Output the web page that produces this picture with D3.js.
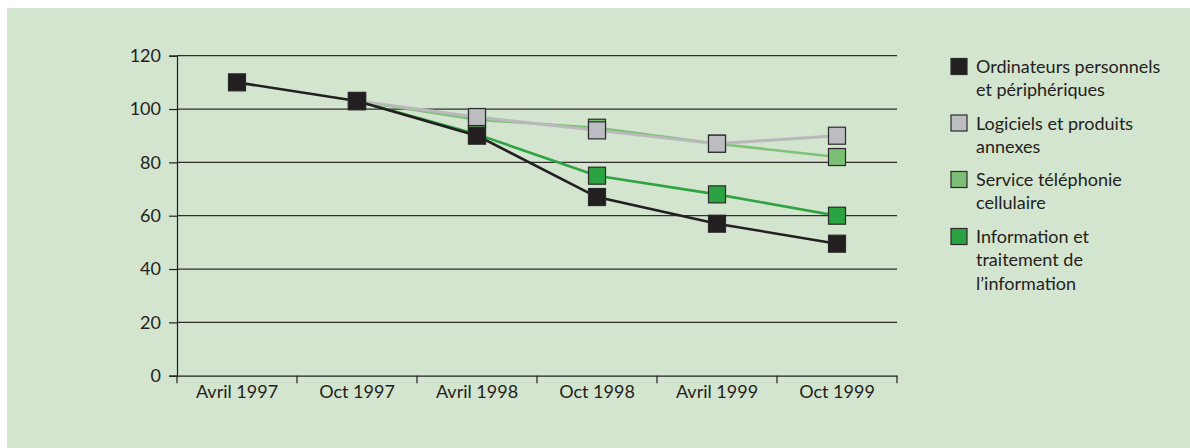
<!DOCTYPE html>
<html>
<head>
<meta charset="utf-8">
<script src="https://cdn.jsdelivr.net/npm/d3@7"></script>
<style>
  html, body { margin: 0; padding: 0; background: #ffffff; }
  svg { display: block; }
  text { font-family: Lato, "Liberation Sans", sans-serif; fill: #231f20; }
</style>
</head>
<body>
<svg id="chart" width="1190" height="448"></svg>
<script>
// Periods on the horizontal axis
const periods = ["Avril 1997", "Oct 1997", "Avril 1998", "Oct 1998", "Avril 1999", "Oct 1999"];

// Price index per series (null = no observation)
const ordinateurs = [110, 103, 90, 67, 57, 49.5];
const logiciels   = [null, 103, 97, 92, 87, 90];
const telephonie  = [null, 103, 96, 93, 87, 82];
const information = [null, 103, 90.5, 75, 68, 60];

// Y axis tick values
const yTicks = [0, 20, 40, 60, 80, 100, 120];

// Legend labels, one entry per line
const legendLabels = [
  ["Ordinateurs personnels", "et périphériques"],
  ["Logiciels et produits", "annexes"],
  ["Service téléphonie", "cellulaire"],
  ["Information et", "traitement de", "l’information"]
];

const series = [
  { values: ordinateurs, line: "#231f20", fill: "#231f20", width: 2.6 },
  { values: logiciels,   line: "#b9b9bc", fill: "#bcbdc0", width: 3 },
  { values: telephonie,  line: "#80c17a", fill: "#7dbe77", width: 2.6 },
  { values: information, line: "#2ea342", fill: "#2ca342", width: 2.6 }
];

const svg = d3.select("#chart");

// panel background
svg.append("rect")
  .attr("x", 7).attr("y", 8)
  .attr("width", 1190 - 7).attr("height", 448 - 8)
  .attr("fill", "#d3e4cf");

const x = d3.scaleBand().domain(periods).range([177, 897]);
const y = d3.scaleLinear().domain([0, 120]).range([375.7, 55.7]);

// horizontal gridlines
svg.append("g")
  .selectAll("line")
  .data(yTicks.filter(d => d > 0))
  .join("line")
  .attr("x1", x.range()[0]).attr("x2", x.range()[1])
  .attr("y1", d => y(d)).attr("y2", d => y(d))
  .attr("stroke", "#2f2f2f").attr("stroke-width", 1.2);

// y axis
const yAxis = svg.append("g")
  .attr("transform", `translate(${x.range()[0]},0)`)
  .call(d3.axisLeft(y).tickValues(yTicks).tickSize(8).tickPadding(8));
yAxis.select(".domain").attr("stroke", "#231f20").attr("stroke-width", 1.2);
yAxis.selectAll(".tick line").attr("stroke", "#231f20").attr("stroke-width", 1.2);
yAxis.selectAll(".tick text")
  .attr("font-size", 18).attr("font-family", "Lato, sans-serif").attr("fill", "#231f20");

// x axis: labels centred in each band, tick marks on band boundaries
const xAxis = svg.append("g")
  .attr("transform", `translate(0,${y(0)})`)
  .call(d3.axisBottom(x).tickSize(0).tickPadding(10));
xAxis.select(".domain").attr("stroke", "#231f20").attr("stroke-width", 1.2);
xAxis.selectAll(".tick text")
  .attr("font-size", 18).attr("font-family", "Lato, sans-serif").attr("fill", "#231f20");

const bounds = periods.map(p => x(p)).concat([x.range()[1]]);
xAxis.selectAll(".bound")
  .data(bounds)
  .join("line")
  .attr("class", "bound")
  .attr("x1", d => d).attr("x2", d => d)
  .attr("y1", 0).attr("y2", 7.5)
  .attr("stroke", "#231f20").attr("stroke-width", 1.2);

const cx = p => x(p) + x.bandwidth() / 2;
const line = d3.line()
  .defined(d => d.v !== null)
  .x(d => cx(d.p))
  .y(d => y(d.v));

const ms = 17;
// draw last series first so the first one sits on top
[...series].reverse().forEach(s => {
  const pts = periods.map((p, i) => ({ p, v: s.values[i] }));
  svg.append("path")
    .datum(pts)
    .attr("d", line)
    .attr("fill", "none")
    .attr("stroke", s.line)
    .attr("stroke-width", s.width)
    .attr("stroke-linejoin", "round");
  svg.append("g")
    .selectAll("rect")
    .data(pts.filter(d => d.v !== null))
    .join("rect")
    .attr("x", d => cx(d.p) - ms / 2)
    .attr("y", d => y(d.v) - ms / 2)
    .attr("width", ms).attr("height", ms)
    .attr("fill", s.fill)
    .attr("stroke", "#2a2a2a").attr("stroke-width", 1.2);
});

// legend
const legend = svg.append("g").attr("transform", "translate(951,0)");
const lineH = 23.4;
const itemBase = [73, 129.5, 186, 243];
legendLabels.forEach((lines, i) => {
  const g = legend.append("g");
  g.append("rect")
    .attr("x", 0).attr("y", itemBase[i] - 14.5)
    .attr("width", 16).attr("height", 16)
    .attr("fill", series[i].fill)
    .attr("stroke", "#2a2a2a").attr("stroke-width", 1.2);
  lines.forEach((t, j) => {
    g.append("text")
      .attr("x", 25).attr("y", itemBase[i] + j * lineH)
      .attr("font-size", 18)
      .text(t);
  });
});
</script>
</body>
</html>
